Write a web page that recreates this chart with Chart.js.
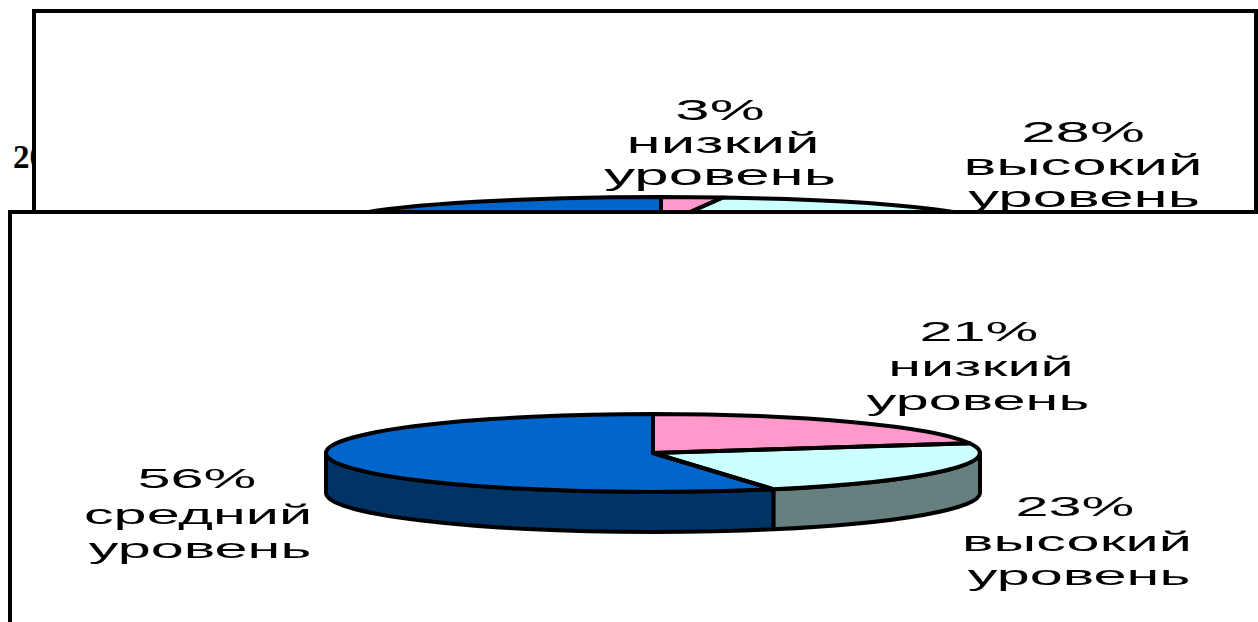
<!DOCTYPE html>
<html><head><meta charset="utf-8">
<script src="https://cdn.jsdelivr.net/npm/chart.js@4"></script>
<style>
html,body{margin:0;padding:0;width:1258px;height:622px;overflow:hidden;background:#fff}
.panel{position:absolute;box-sizing:border-box;border:4px solid #000;background:#fff;overflow:hidden}
#top{left:32px;top:9px;width:1226px;height:205px;z-index:1}
#bot{left:8px;top:210px;width:1270px;height:430px;z-index:2}
canvas{position:absolute;display:block}
#year{position:absolute;left:13px;top:139px;font:bold 33px "Liberation Serif",serif;color:#000;z-index:0}
</style></head><body>
<div id="year">20</div>
<div class="panel" id="top"><canvas id="c1" width="1258" height="622" style="left:-36px;top:-13px"></canvas></div>
<div class="panel" id="bot"><canvas id="c2" width="1258" height="622" style="left:-12px;top:-214px"></canvas></div>
<script>
const categories = ['низкий уровень','высокий уровень','средний уровень'];
const valuesTop = [3, 28, 69];
const valuesBottom = [21, 23, 56];
const labelLine2 = ['низкий','высокий','средний'];
const labelLine3 = 'уровень';

const faceColors = ['#FF99CC','#CCFFFF','#0066CC'];
const sideColors = ['#804D66','#668080','#003366'];

const pie3d = {
  id:'pie3d',
  beforeDatasetsDraw(chart,args,o){
    const ctx=chart.ctx, arcs=chart.getDatasetMeta(0).data, a0=arcs[0];
    const R=a0.outerRadius;
    arcs.forEach((arc,i)=>{
      const p=Math.max(arc.startAngle,0), q=Math.min(arc.endAngle,Math.PI);
      if(q<=p) return;
      ctx.save();
      ctx.beginPath();
      ctx.ellipse(o.cx,o.cy,o.rx,o.ry,0,p,q);
      ctx.ellipse(o.cx,o.cy+o.depth,o.rx,o.ry,0,q,p,true);
      ctx.closePath();
      ctx.fillStyle=sideColors[i];ctx.fill();
      ctx.lineWidth=o.line;ctx.strokeStyle='#000';ctx.lineJoin='round';ctx.stroke();
      ctx.restore();
    });
    ctx.save();
    ctx.translate(o.cx,o.cy);ctx.scale(o.rx/R,o.ry/R);ctx.translate(-a0.x,-a0.y);
  },
  afterDatasetsDraw(chart,args,o){
    const ctx=chart.ctx, arcs=chart.getDatasetMeta(0).data;
    ctx.restore();
    arcs.forEach(arc=>{
      ctx.save();
      ctx.beginPath();
      ctx.moveTo(o.cx,o.cy);
      ctx.ellipse(o.cx,o.cy,o.rx,o.ry,0,arc.startAngle,arc.endAngle);
      ctx.closePath();
      ctx.lineWidth=o.line;ctx.strokeStyle='#000';ctx.lineJoin='round';ctx.stroke();
      ctx.restore();
    });
    ctx.save();
    ctx.fillStyle='#000';ctx.textAlign='center';ctx.textBaseline='alphabetic';
    ctx.font=o.font;
    chart.data.datasets[0].data.forEach((v,i)=>{
      const L=o.labels[i];
      if(!L) return;
      [v+'%',labelLine2[i],labelLine3].forEach((t,k)=>{
        ctx.save();
        ctx.translate(L[k][0],L[k][1]);
        ctx.scale(o.stretch,1);
        ctx.fillText(t,0,0);
        ctx.restore();
      });
    });
    ctx.restore();
  }
};

function build(id,values,geom){
  return new Chart(document.getElementById(id),{
    type:'pie',
    data:{labels:categories,datasets:[{data:values,backgroundColor:faceColors,borderWidth:0}]},
    options:{responsive:false,animation:false,rotation:0,
      plugins:{legend:{display:false},tooltip:{enabled:false},pie3d:geom}},
    plugins:[pie3d]
  });
}
build('c1',valuesTop,{cx:661,cy:225,rx:330,ry:28,depth:40,line:4,
  font:'29px "Liberation Sans", Arial, sans-serif',stretch:2.13,
  labels:[[[720,120],[723,153],[720,185]],[[1083,142],[1083,175],[1084,207]],null]});
build('c2',valuesBottom,{cx:653,cy:453,rx:327,ry:39,depth:40,line:4,
  font:'28px "Liberation Sans", Arial, sans-serif',stretch:2.12,
  labels:[[[979,341],[981,376],[978,410]],[[1075,516],[1077,551],[1079,585]],[[197,488],[198,524],[200,558]]]});
</script>
</body></html>
